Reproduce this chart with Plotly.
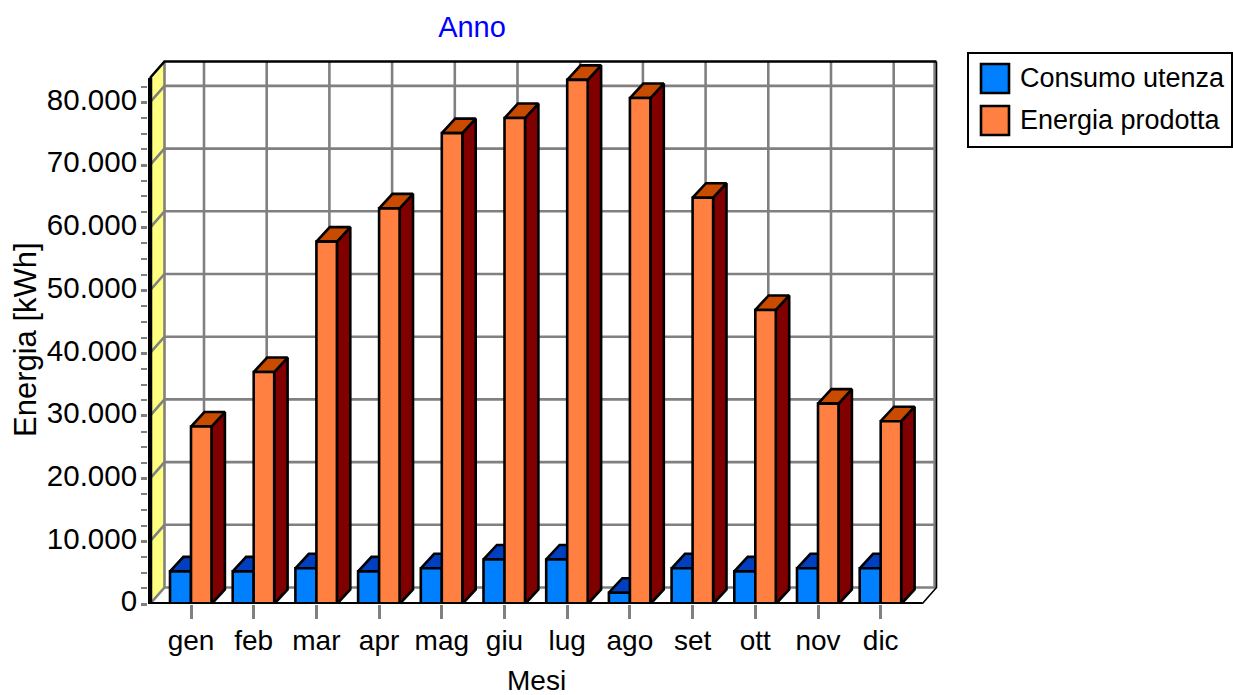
import plotly.graph_objects as go

# ---- data ----
months = ["gen", "feb", "mar", "apr", "mag", "giu", "lug", "ago", "set", "ott", "nov", "dic"]
consumo = [5200, 5200, 5700, 5200, 5700, 7100, 7100, 1800, 5700, 5200, 5700, 5700]
energia = [28300, 37000, 57800, 63100, 75100, 77500, 83600, 80700, 64800, 46900, 31950, 29150]
y_ticks = [0, 10000, 20000, 30000, 40000, 50000, 60000, 70000, 80000]
series_names = ["Consumo utenza", "Energia prodotta"]

# ---- style / geometry ----
FONT = "Liberation Sans, Arial, sans-serif"
FS = 28
PX_X = 62.7          # pixels per month
PX_Y = 62.7 / 10000  # pixels per kWh
L, R, T, B = 148, 945, 50, 604  # plot area in pixels
X0_PX = 191
XMIN = (L - X0_PX) / PX_X
XMAX = (R - X0_PX) / PX_X
YMAX = (B - T) / PX_Y
X_LEFT = (150 - X0_PX) / PX_X    # front plane
X_RIGHT = (922 - X0_PX) / PX_X
Y_TOP = (604 - 78) / PX_Y
DX = 14.5 / PX_X     # wall depth
DY = 16.5 / PX_Y
GDX = 13 / PX_X      # grid offset of the month lines
BDX = 13.4 / PX_X    # bar depth
BDY = 14.5 / PX_Y
WB = 21 / PX_X       # blue width
WO = 20.5 / PX_X     # orange width

BLUE, BLUE_TOP, BLUE_SIDE = "#0080FF", "#0040C0", "#000080"
ORANGE, ORANGE_TOP, ORANGE_SIDE = "#FF8040", "#C84B00", "#800000"
GRID = "#808080"
WALL = "#FFFF80"


def poly(points):
    xs, ys = [], []
    for p in points:
        for a, b in p + [p[0]]:
            xs.append(a)
            ys.append(b)
        xs.append(None)
        ys.append(None)
    return xs, ys


def fill_trace(points, color, z, lw=2.6, line="black"):
    xs, ys = poly(points)
    return go.Scatter(x=xs, y=ys, mode="lines", fill="toself", fillcolor=color,
                      line=dict(color=line, width=lw), hoverinfo="skip",
                      showlegend=False, cliponaxis=False, zorder=z)


def line_trace(xs, ys, color, w, z):
    return go.Scatter(x=xs, y=ys, mode="lines", line=dict(color=color, width=w),
                      hoverinfo="skip", showlegend=False, cliponaxis=False, zorder=z)


fig = go.Figure()

# left wall
fig.add_trace(fill_trace([[(X_LEFT, 0), (X_LEFT + DX, DY), (X_LEFT + DX, Y_TOP + DY), (X_LEFT, Y_TOP)]],
                         WALL, 0, lw=0, line=WALL))

# grid
gx, gy = [], []
for v in y_ticks:
    gx += [X_LEFT, X_LEFT + DX, X_RIGHT + DX, None]
    gy += [v, v + DY, v + DY, None]
for i in range(len(months)):
    gx += [i + GDX, i + GDX, None]
    gy += [DY, Y_TOP + DY, None]
gx += [X_LEFT + DX, X_LEFT + DX, None, X_RIGHT + DX - 0.03, X_RIGHT + DX - 0.03, None]
gy += [DY, Y_TOP + DY, None, DY, Y_TOP + DY, None]
fig.add_trace(line_trace(gx, gy, GRID, 2.6, 1))

# frame
fig.add_trace(line_trace([X_LEFT, X_LEFT + DX, X_RIGHT + DX], [Y_TOP, Y_TOP + DY, Y_TOP + DY], "black", 2.6, 2))
fig.add_trace(line_trace([X_RIGHT + DX, X_RIGHT + DX, X_RIGHT], [Y_TOP + DY, DY, 0], "black", 1.6, 2))
fig.add_trace(line_trace([X_LEFT, X_LEFT], [0, Y_TOP], "black", 4.5, 2))


def bar_3d(values, x_start, width, top_c, side_c, z):
    tops, sides = [], []
    for i, v in enumerate(values):
        a = i + x_start
        b = a + width
        tops.append([(a, v), (a + BDX, v + BDY), (b + BDX, v + BDY), (b, v)])
        sides.append([(b, 0), (b + BDX, BDY), (b + BDX, v + BDY), (b, v)])
    fig.add_trace(fill_trace(sides, side_c, z))
    fig.add_trace(fill_trace(tops, top_c, z))


bar_3d(consumo, -WB, WB, BLUE_TOP, BLUE_SIDE, 3)
fig.add_trace(go.Bar(x=list(range(12)), y=consumo, width=WB, offset=-WB, name=series_names[0],
                     marker=dict(color=BLUE, line=dict(color="black", width=2.6)),
                     cliponaxis=False, showlegend=False, zorder=4))
bar_3d(energia, 0, WO, ORANGE_TOP, ORANGE_SIDE, 5)
fig.add_trace(go.Bar(x=list(range(12)), y=energia, width=WO, offset=0, name=series_names[1],
                     marker=dict(color=ORANGE, line=dict(color="black", width=2.6)),
                     cliponaxis=False, showlegend=False, zorder=6))

# baseline
fig.add_trace(line_trace([X_LEFT - 0.03, X_RIGHT], [0, 0], "black", 4, 7))


# ---- legend and axis titles placed in pixel space of the figure ----
def px(x):
    return (x - L) / (R - L)


def py(y):
    return (B - y) / (B - T)


shapes = [dict(type="rect", xref="paper", yref="paper", x0=px(968), x1=px(1232), y0=py(147), y1=py(53),
               line=dict(color="black", width=2), fillcolor="white")]
annotations = []
for name, color, (y0, y1), ty in zip(series_names, [BLUE, ORANGE], [(64, 93), (106, 135)], [78.5, 119.5]):
    shapes.append(dict(type="rect", xref="paper", yref="paper", x0=px(981), x1=px(1009), y0=py(y1), y1=py(y0),
                       line=dict(color="black", width=2.6), fillcolor=color))
    annotations.append(dict(xref="paper", yref="paper", x=px(1018), y=py(ty), text=name,
                            showarrow=False, xanchor="left", yanchor="middle",
                            font=dict(family=FONT, size=FS - 1, color="black")))
annotations.append(dict(xref="paper", yref="paper", x=px(536), y=py(680), text="Mesi", showarrow=False,
                        xanchor="center", yanchor="middle", font=dict(family=FONT, size=FS, color="black")))
annotations.append(dict(xref="paper", yref="paper", x=px(25), y=py(340), text="Energia [kWh]", showarrow=False,
                        textangle=-90, xanchor="center", yanchor="middle",
                        font=dict(family=FONT, size=FS + 3, color="black")))

fig.update_layout(
    width=1233, height=695,
    margin=dict(l=L, r=1233 - R, t=T, b=695 - B, pad=0),
    paper_bgcolor="white", plot_bgcolor="white",
    separators=",.",
    barmode="overlay",
    showlegend=False,
    font=dict(family=FONT, size=FS, color="black"),
    title=dict(text="Anno", x=472 / 1233, y=1 - 27 / 695, xanchor="center", yanchor="middle",
               font=dict(family=FONT, size=FS + 1, color="#0000FF")),
    shapes=shapes, annotations=annotations,
    xaxis=dict(range=[XMIN, XMAX], tickmode="array", tickvals=list(range(12)), ticktext=months,
               showgrid=False, zeroline=False, showline=False, ticks="outside", ticklen=14,
               tickwidth=2.5, tickcolor=GRID, layer="below traces", automargin=False,
               ticklabelstandoff=-3),
    yaxis=dict(range=[0, YMAX], tickmode="array", tickvals=y_ticks, tickformat=",d",
               showgrid=False, zeroline=False, showline=False, ticks="outside", ticklen=6,
               tickwidth=2.5, tickcolor=GRID, layer="below traces", automargin=False,
               ticklabelstandoff=-2, ticklabelshift=-3,
               tickfont=dict(size=FS + 1.5),
               minor=dict(tickmode="array", tickvals=list(range(0, 82501, 2500)), ticks="outside",
                          ticklen=6, tickwidth=2, tickcolor=GRID, showgrid=False)),
)

fig.write_html("out.html", config=dict(displayModeBar=False),
               post_script="document.body.style.margin='0';document.body.style.overflow='hidden';")
